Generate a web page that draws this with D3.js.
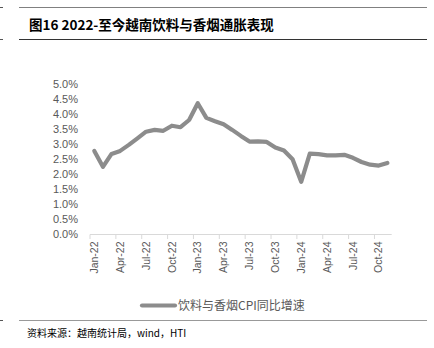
<!DOCTYPE html>
<html>
<head>
<meta charset="utf-8">
<script src="https://cdn.jsdelivr.net/npm/d3@7/dist/d3.min.js"></script>
<style>
  html, body { margin: 0; padding: 0; background: #fff; }
  svg { display: block; }
</style>
</head>
<body>
<script>
// Monthly categories, Jan-22 .. Nov-24
const months = [
  "Jan-22","Feb-22","Mar-22","Apr-22","May-22","Jun-22","Jul-22","Aug-22","Sep-22","Oct-22","Nov-22","Dec-22",
  "Jan-23","Feb-23","Mar-23","Apr-23","May-23","Jun-23","Jul-23","Aug-23","Sep-23","Oct-23","Nov-23","Dec-23",
  "Jan-24","Feb-24","Mar-24","Apr-24","May-24","Jun-24","Jul-24","Aug-24","Sep-24","Oct-24","Nov-24"
];
// Beverage & tobacco CPI, year-on-year (%)
const cpiYoY = [
  2.77, 2.24, 2.67, 2.77, 2.97, 3.19, 3.41, 3.47, 3.44, 3.61, 3.56, 3.80,
  4.36, 3.87, 3.76, 3.66, 3.47, 3.27, 3.08, 3.09, 3.07, 2.88, 2.78, 2.49,
  1.74, 2.68, 2.66, 2.62, 2.62, 2.64, 2.54, 2.40, 2.31, 2.28, 2.37
];
const yTicks = [0, 0.5, 1.0, 1.5, 2.0, 2.5, 3.0, 3.5, 4.0, 4.5, 5.0];
const xTickLabels = months.filter((m, i) => i % 3 === 0);

const title = "图16 2022-至今越南饮料与香烟通胀表现";
const seriesName = "饮料与香烟CPI同比增速";
const source = "资料来源：越南统计局，wind，HTI";

const W = 434, H = 348;
const lineColor = "#8c8c8c";
const labelColor = "#595959";

const svg = d3.select("body").append("svg").attr("width", W).attr("height", H);

// Header rules and title
svg.append("line").attr("x1", 19).attr("x2", 427).attr("y1", 7.5).attr("y2", 7.5)
  .attr("stroke", "#808080").attr("stroke-width", 1.2);
svg.append("line").attr("x1", 19).attr("x2", 427).attr("y1", 39.5).attr("y2", 39.5)
  .attr("stroke", "#333").attr("stroke-width", 1.2);
[7.5, 39.5, 320.5].forEach(y => {
  svg.append("line").attr("x1", 0).attr("x2", 3).attr("y1", y).attr("y2", y)
    .attr("stroke", "#555").attr("stroke-width", 1);
});
svg.append("text").attr("x", 29).attr("y", 29.5)
  .attr("font-family", "'Noto Sans CJK SC', 'Liberation Sans', sans-serif")
  .attr("font-weight", "bold").attr("font-size", 13.5).attr("fill", "#000")
  .text(title);

// Scales
const x = d3.scaleBand().domain(months).range([90, 391.7]).paddingInner(0).paddingOuter(0);
const y = d3.scaleLinear().domain([0, 5]).range([234, 84]);

// Y axis (labels only)
const yAxis = svg.append("g").attr("transform", "translate(90,0)")
  .call(d3.axisLeft(y).tickValues(yTicks).tickSize(0).tickPadding(12)
    .tickFormat(d => d.toFixed(1) + "%"));
yAxis.select(".domain").remove();
yAxis.selectAll("text").attr("font-family", "'Liberation Sans', Arial, sans-serif")
  .attr("font-size", 11).attr("fill", labelColor);

// X axis: baseline, boundary ticks every quarter, rotated month labels
const xAxis = svg.append("g").attr("transform", "translate(0,234)")
  .call(d3.axisBottom(x).tickValues(xTickLabels).tickSize(0).tickPadding(0));
xAxis.select(".domain").attr("stroke", "#d9d9d9").attr("stroke-width", 1)
  .attr("d", `M${x.range()[0]},0.5H${x.range()[1]}`);
xAxis.selectAll(".tick text")
  .attr("font-family", "'Liberation Sans Narrow', 'Liberation Sans', Arial, sans-serif")
  .attr("font-size", 10.5).attr("fill", labelColor)
  .attr("transform", "rotate(-90)")
  .attr("text-anchor", "end")
  .attr("x", -7.5).attr("y", 0).attr("dy", "0.35em");
xAxis.selectAll(".tick-mark").data(xTickLabels).enter().append("line")
  .attr("class", "tick-mark")
  .attr("x1", d => x(d)).attr("x2", d => x(d))
  .attr("y1", 0.5).attr("y2", 5)
  .attr("stroke", "#d9d9d9").attr("stroke-width", 1);

// Series line
const line = d3.line()
  .x((d, i) => x(months[i]) + x.bandwidth() / 2)
  .y(d => y(d));
svg.append("path").datum(cpiYoY)
  .attr("d", line)
  .attr("fill", "none").attr("stroke", lineColor)
  .attr("stroke-width", 4.2).attr("stroke-linejoin", "round").attr("stroke-linecap", "round");

// Legend
svg.append("line").attr("x1", 142).attr("x2", 175).attr("y1", 305.5).attr("y2", 305.5)
  .attr("stroke", lineColor).attr("stroke-width", 4.2).attr("stroke-linecap", "round");
svg.append("text").attr("x", 178).attr("y", 310)
  .attr("font-family", "'Noto Sans CJK SC', sans-serif").attr("font-size", 12)
  .attr("fill", labelColor).text(seriesName);

// Footer rule and source
svg.append("line").attr("x1", 19).attr("x2", 427).attr("y1", 320.5).attr("y2", 320.5)
  .attr("stroke", "#999").attr("stroke-width", 1);
svg.append("text").attr("x", 27).attr("y", 337)
  .attr("font-family", "'Noto Sans CJK SC', sans-serif").attr("font-size", 10)
  .attr("fill", "#000").text(source);
</script>
</body>
</html>
